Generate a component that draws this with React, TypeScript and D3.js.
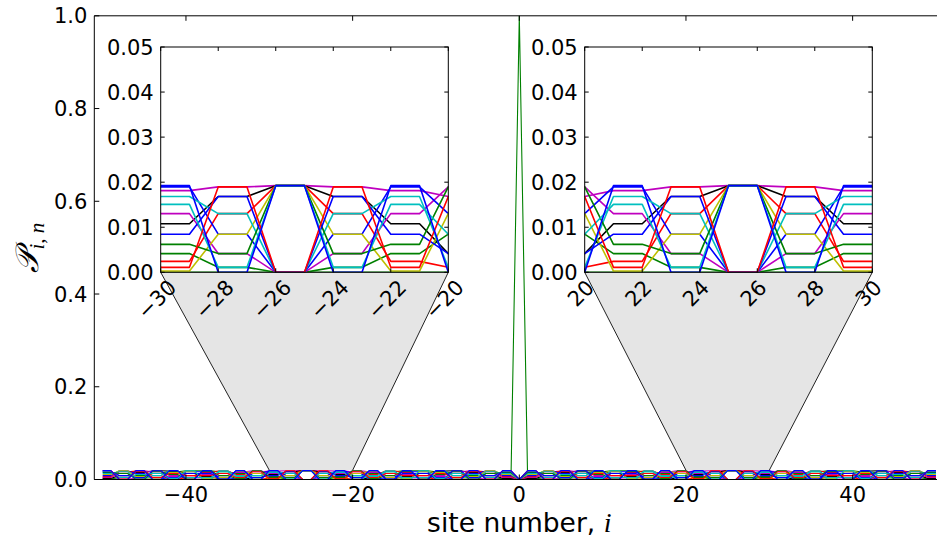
import React from 'react';
import * as d3 from 'd3';

const W = 937;
const H = 545;

// Sites of the chain
const siteNumbers = d3.range(-50, 51);

// Occupation levels used by the extended eigenstates (code 0..d), plus the full weight (code e)
const levelValues = [
  0, 0.000279, 0.001101, 0.002418, 0.004153, 0.006206, 0.008456, 0.010774,
  0.013025, 0.015077, 0.016813, 0.018129, 0.018951, 0.019231, 1.0,
];

// Per-site level codes (hex digit into levelValues) for sites -50..50
const profileCodes = [
  '112233445566778899aabbccddccbbaa998877665544332211' + '0' + '112233445566778899aabbccddccbbaa998877665544332211',
  '22446688aaccccaa886644220022446688aaccccaa88664422' + '0' + '22446688aaccccaa886644220022446688aaccccaa88664422',
  '336699ccbb885522114477aaddaa774411225588bbcc996633' + '0' + '336699ccbb885522114477aaddaa774411225588bbcc996633',
  '4488ccaa66222266aacc884400' + '4488ccaa66222266aacc8844' + '0' + '4488ccaa66222266aacc884400' + '4488ccaa66222266aacc8844',
  '55aabb66114499cc77223388dd88332277cc99441166bbaa55' + '0' + '55aabb66114499cc77223388dd88332277cc99441166bbaa55',
  '66cc882244aaaa442288cc660066cc882244aaaa442288cc66' + '0' + '66cc882244aaaa442288cc660066cc882244aaaa442288cc66',
  '77cc552299aa3344bb881166dd661188bb4433aa992255cc77' + '0' + '77cc552299aa3344bb881166dd661188bb4433aa992255cc77',
  '88aa2266cc4444cc6622aa880088aa2266cc4444cc6622aa88' + '0' + '88aa2266cc4444cc6622aa880088aa2266cc4444cc6622aa88',
  '998811aa7722bb6633cc5544dd4455cc3366bb2277aa118899' + '0' + '998811aa7722bb6633cc5544dd4455cc3366bb2277aa118899',
  'aa6644cc22888822cc4466aa00aa6644cc22888822cc4466aa' + '0' + 'aa6644cc22888822cc4466aa00aa6644cc22888822cc4466aa',
  'bb44778833cc11aa55669922dd22996655aa11cc33887744bb' + '0' + 'bb44778833cc11aa55669922dd22996655aa11cc33887744bb',
  'cc22aa448866668844aa22cc00cc22aa448866668844aa22cc' + '0' + 'cc22aa448866668844aa22cc00cc22aa448866668844aa22cc',
  'dd00dd00dd00dd00dd00dd00dd00dd00dd00dd00dd00dd00dd' + '0' + 'dd00dd00dd00dd00dd00dd00dd00dd00dd00dd00dd00dd00dd',
];
const profileColors = [
  '#bf00bf', '#008000', '#000000', '#bf00bf', '#ff0000', '#0000ff', '#bfbf00',
  '#00bfbf', '#008000', '#0000ff', '#00bfbf', '#ff0000', '#0000ff',
];

// The state localized on the central site
const localizedCode =
  '00000000000000000000000000000000000000000000000000' + 'e' + '00000000000000000000000000000000000000000000000000';
const localizedColor = '#008000';

const mainXTicks = [-40, -20, 0, 20, 40];
const mainYTicks = [0, 0.2, 0.4, 0.6, 0.8, 1.0];
const insetYTicks = [0, 0.01, 0.02, 0.03, 0.04, 0.05];
const leftInsetXTicks = [-30, -28, -26, -24, -22, -20];
const rightInsetXTicks = [20, 22, 24, 26, 28, 30];
const leftInsetRange = [-30, -20];
const rightInsetRange = [20, 30];
const insetYRange = [0, 0.05];
const zoomBandTop = 0.02;

type Series = { color: string; values: number[] };

const decode = (code: string) => code.split('').map((ch) => levelValues[parseInt(ch, 16)]);

const series: Series[] = [
  { color: localizedColor, values: decode(localizedCode) },
  ...profileCodes.map((c, k) => ({ color: profileColors[k], values: decode(c) })),
];

const FONT = 'DejaVu Sans, sans-serif';
const TICK_FS = 21;
const MINUS = '\u2212';
const fmtInt = (v: number) => (v < 0 ? MINUS + Math.abs(v) : String(v));

const main = { left: 94.3, right: 944.3, top: 15.8, bottom: 479.5 };
const x = d3.scaleLinear().domain([-51, 51]).range([main.left, main.right]);
const y = d3.scaleLinear().domain([0, 1]).range([main.bottom, main.top]);

type InsetSpec = {
  id: string;
  range: number[];
  ticks: number[];
  left: number;
  right: number;
  top: number;
  bottom: number;
};

const insets: InsetSpec[] = [
  { id: 'insL', range: leftInsetRange, ticks: leftInsetXTicks, left: 160.7, right: 448.3, top: 47, bottom: 272.3 },
  { id: 'insR', range: rightInsetRange, ticks: rightInsetXTicks, left: 584.7, right: 872.3, top: 47, bottom: 272.3 },
];

function Inset({ spec }: { spec: InsetSpec }) {
  const ix = d3.scaleLinear().domain(spec.range).range([spec.left, spec.right]);
  const iy = d3.scaleLinear().domain(insetYRange).range([spec.bottom, spec.top]);
  const line = d3
    .line<number>()
    .x((_, i) => ix(siteNumbers[i]))
    .y((v) => iy(v));
  const tickLen = 4;
  return (
    <g>
      <defs>
        <clipPath id={spec.id}>
          <rect x={spec.left} y={spec.top} width={spec.right - spec.left} height={spec.bottom - spec.top} />
        </clipPath>
      </defs>
      <rect x={spec.left} y={spec.top} width={spec.right - spec.left} height={spec.bottom - spec.top} fill="#fff" />
      <g clipPath={`url(#${spec.id})`}>
        {series.map((s, k) => (
          <path key={k} d={line(s.values) || ''} fill="none" stroke={s.color} strokeWidth={1.6} strokeLinejoin="round" />
        ))}
      </g>
      {/* ticks, inward on all sides */}
      {spec.ticks.map((t) => (
        <g key={'xt' + t}>
          <line x1={ix(t)} x2={ix(t)} y1={spec.bottom} y2={spec.bottom - tickLen} stroke="#000" />
          <line x1={ix(t)} x2={ix(t)} y1={spec.top} y2={spec.top + tickLen} stroke="#000" />
        </g>
      ))}
      {insetYTicks.map((t) => (
        <g key={'yt' + t}>
          <line x1={spec.left} x2={spec.left + tickLen} y1={iy(t)} y2={iy(t)} stroke="#000" />
          <line x1={spec.right} x2={spec.right - tickLen} y1={iy(t)} y2={iy(t)} stroke="#000" />
          <text x={spec.left - 7} y={iy(t)} dy="0.36em" textAnchor="end" fontFamily={FONT} fontSize={TICK_FS}>
            {t.toFixed(2)}
          </text>
        </g>
      ))}
      {spec.ticks.map((t) => {
        const label = fmtInt(t);
        const w = label.length === 3 ? 44 : 26.7;
        const h = 15;
        const half = ((w + h) * Math.SQRT1_2) / 2;
        const cx = ix(t) - 4;
        const cy = spec.bottom + 6 + half;
        return (
          <text
            key={'xl' + t}
            x={cx}
            y={cy}
            dy="0.36em"
            textAnchor="middle"
            fontFamily={FONT}
            fontSize={TICK_FS}
            transform={`rotate(-45 ${cx} ${cy})`}
          >
            {label}
          </text>
        );
      })}
      <rect
        x={spec.left}
        y={spec.top}
        width={spec.right - spec.left}
        height={spec.bottom - spec.top}
        fill="none"
        stroke="#000"
        strokeWidth={1}
      />
    </g>
  );
}

export default function App() {
  const line = d3
    .line<number>()
    .x((_, i) => x(siteNumbers[i]))
    .y((v) => y(v));
  const tickLen = 5;
  return (
    <svg width={W} height={H} style={{ position: 'absolute', left: 0, top: 0, background: '#fff' }}>
      <rect x={0} y={0} width={W} height={H} fill="#fff" />
      <defs>
        <clipPath id="mainClip">
          <rect x={main.left} y={main.top} width={main.right - main.left} height={main.bottom - main.top} />
        </clipPath>
      </defs>

      {/* connectors from the zoomed ranges up to the insets */}
      {insets.map((spec) => {
        const pts: [number, number][] = [
          [spec.left, spec.bottom],
          [spec.right, spec.bottom],
          [x(spec.range[1]), y(zoomBandTop)],
          [x(spec.range[0]), y(zoomBandTop)],
        ];
        return (
          <g key={'c' + spec.id}>
            <polygon points={pts.map((p) => p.join(',')).join(' ')} fill="#e5e5e5" stroke="none" />
            <line x1={pts[0][0]} y1={pts[0][1]} x2={pts[3][0]} y2={pts[3][1]} stroke="#222" strokeWidth={1} />
            <line x1={pts[1][0]} y1={pts[1][1]} x2={pts[2][0]} y2={pts[2][1]} stroke="#222" strokeWidth={1} />
          </g>
        );
      })}

      <g clipPath="url(#mainClip)">
        {series.map((s, k) => (
          <path key={k} d={line(s.values) || ''} fill="none" stroke={s.color} strokeWidth={1.1} strokeLinejoin="round" />
        ))}
      </g>

      {/* main axes frame and ticks */}
      <line x1={main.left} x2={main.left} y1={main.top} y2={main.bottom} stroke="#000" />
      <line x1={main.left} x2={W} y1={main.top} y2={main.top} stroke="#000" />
      <line x1={main.left} x2={W} y1={main.bottom} y2={main.bottom} stroke="#000" />
      {mainXTicks.map((t) => (
        <g key={'mx' + t}>
          <line x1={x(t)} x2={x(t)} y1={main.bottom} y2={main.bottom - tickLen} stroke="#000" />
          <line x1={x(t)} x2={x(t)} y1={main.top} y2={main.top + tickLen} stroke="#000" />
          <text x={x(t)} y={main.bottom + 22} textAnchor="middle" fontFamily={FONT} fontSize={TICK_FS}>
            {fmtInt(t)}
          </text>
        </g>
      ))}
      {mainYTicks.map((t) => (
        <g key={'my' + t}>
          <line x1={main.left} x2={main.left + tickLen} y1={y(t)} y2={y(t)} stroke="#000" />
          <text x={main.left - 7} y={y(t)} dy="0.36em" textAnchor="end" fontFamily={FONT} fontSize={TICK_FS}>
            {t.toFixed(1)}
          </text>
        </g>
      ))}

      {insets.map((spec) => (
        <Inset key={spec.id} spec={spec} />
      ))}

      <text x={(main.left + 944.3) / 2} y={532} textAnchor="middle" fontFamily={FONT} fontSize={26.5}>
        site number,{' '}
        <tspan fontFamily="Liberation Serif, serif" fontStyle="italic" fontSize={28}>
          i
        </tspan>
      </text>
      <text transform={`translate(38 ${(main.top + main.bottom) / 2}) rotate(-90)`} textAnchor="middle">
        <tspan fontFamily="DejaVu Serif, serif" fontStyle="italic" fontSize={32}>
          𝒫
        </tspan>
        <tspan fontFamily="Liberation Serif, serif" fontStyle="italic" fontSize={21} dy={6}>
          i
        </tspan>
        <tspan fontFamily="Liberation Serif, serif" fontSize={21}>
          ,{' '}
        </tspan>
        <tspan fontFamily="Liberation Serif, serif" fontStyle="italic" fontSize={21}>
          n
        </tspan>
      </text>
    </svg>
  );
}
